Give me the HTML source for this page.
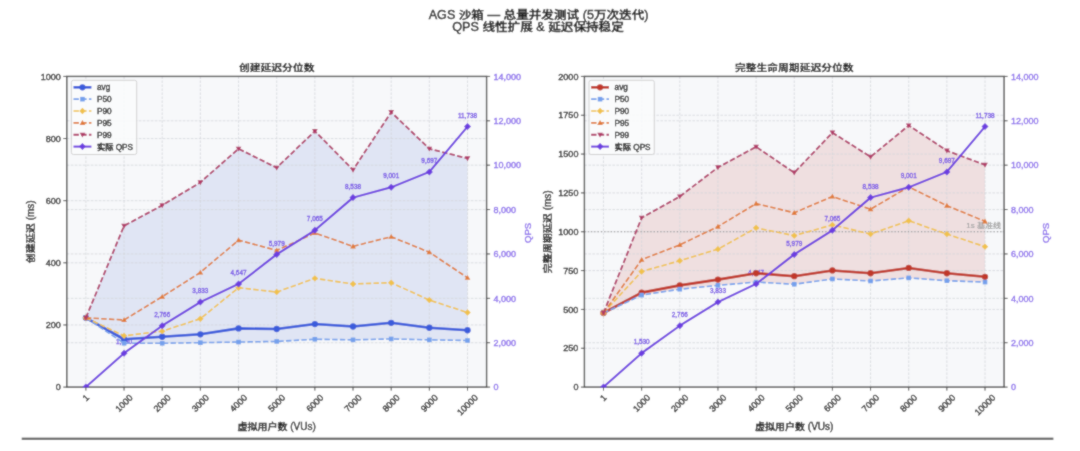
<!DOCTYPE html>
<html><head><meta charset="utf-8"><title>AGS 沙箱 — 总量并发测试</title>
<style>html,body{margin:0;padding:0;background:#fff;width:1080px;height:451px;overflow:hidden}svg{display:block}</style>
</head><body>
<svg width="1080" height="451" viewBox="0 0 1080 451">
<defs><filter id="soft" x="0" y="0" width="1080" height="451" filterUnits="userSpaceOnUse"><feConvolveMatrix order="3" kernelMatrix="1 2 1 2 12 2 1 2 1" divisor="24" edgeMode="duplicate"/></filter></defs>
<g filter="url(#soft)">
<rect x="0" y="0" width="1080" height="451" fill="#ffffff"/>
<text x="428.69" y="18.90" font-family='"Liberation Sans", "Noto Sans CJK SC", sans-serif' font-size="12.6" font-weight="500" fill="#1c1c1c" stroke="#1c1c1c" stroke-width="0.4" xml:space="preserve">AGS </text>
<text x="458.80" y="18.90" font-family='"Liberation Sans", "Noto Sans CJK SC", sans-serif' font-size="12.6" font-weight="500" fill="#1c1c1c" stroke="#1c1c1c" stroke-width="0.4" transform="translate(0 18.90) scale(1 0.87) translate(0 -18.90)">沙箱</text>
<text x="484.00" y="18.90" font-family='"Liberation Sans", "Noto Sans CJK SC", sans-serif' font-size="12.6" font-weight="500" fill="#1c1c1c" stroke="#1c1c1c" stroke-width="0.4" xml:space="preserve"> — </text>
<text x="503.61" y="18.90" font-family='"Liberation Sans", "Noto Sans CJK SC", sans-serif' font-size="12.6" font-weight="500" fill="#1c1c1c" stroke="#1c1c1c" stroke-width="0.4" transform="translate(0 18.90) scale(1 0.87) translate(0 -18.90)">总量并发测试</text>
<text x="579.21" y="18.90" font-family='"Liberation Sans", "Noto Sans CJK SC", sans-serif' font-size="12.6" font-weight="500" fill="#1c1c1c" stroke="#1c1c1c" stroke-width="0.4" xml:space="preserve"> (5</text>
<text x="593.91" y="18.90" font-family='"Liberation Sans", "Noto Sans CJK SC", sans-serif' font-size="12.6" font-weight="500" fill="#1c1c1c" stroke="#1c1c1c" stroke-width="0.4" transform="translate(0 18.90) scale(1 0.87) translate(0 -18.90)">万次迭代</text>
<text x="644.31" y="18.90" font-family='"Liberation Sans", "Noto Sans CJK SC", sans-serif' font-size="12.6" font-weight="500" fill="#1c1c1c" stroke="#1c1c1c" stroke-width="0.4" xml:space="preserve">)</text>
<text x="452.34" y="31.20" font-family='"Liberation Sans", "Noto Sans CJK SC", sans-serif' font-size="12.6" font-weight="500" fill="#1c1c1c" stroke="#1c1c1c" stroke-width="0.4" xml:space="preserve">QPS </text>
<text x="482.45" y="31.20" font-family='"Liberation Sans", "Noto Sans CJK SC", sans-serif' font-size="12.6" font-weight="500" fill="#1c1c1c" stroke="#1c1c1c" stroke-width="0.4" transform="translate(0 31.20) scale(1 0.87) translate(0 -31.20)">线性扩展</text>
<text x="532.85" y="31.20" font-family='"Liberation Sans", "Noto Sans CJK SC", sans-serif' font-size="12.6" font-weight="500" fill="#1c1c1c" stroke="#1c1c1c" stroke-width="0.4" xml:space="preserve"> &amp; </text>
<text x="548.26" y="31.20" font-family='"Liberation Sans", "Noto Sans CJK SC", sans-serif' font-size="12.6" font-weight="500" fill="#1c1c1c" stroke="#1c1c1c" stroke-width="0.4" transform="translate(0 31.20) scale(1 0.87) translate(0 -31.20)">延迟保持稳定</text>
<rect x="66.80" y="76.40" width="419.80" height="310.70" fill="#f7f8fa"/>
<polygon points="85.88,317.81 124.05,225.85 162.21,205.34 200.37,182.35 238.54,148.79 276.70,167.75 314.86,131.08 353.03,169.92 391.19,112.13 429.35,148.79 467.52,158.42 467.52,340.50 429.35,339.87 391.19,338.94 353.03,339.87 314.86,339.25 276.70,341.43 238.54,342.05 200.37,342.67 162.21,343.29 124.05,343.29 85.88,317.81" fill="#e0e5f4"/>
<line x1="85.88" y1="76.40" x2="85.88" y2="387.10" stroke="#d3d5da" stroke-width="0.8" stroke-dasharray="2.6 1.4"/>
<line x1="124.05" y1="76.40" x2="124.05" y2="387.10" stroke="#d3d5da" stroke-width="0.8" stroke-dasharray="2.6 1.4"/>
<line x1="162.21" y1="76.40" x2="162.21" y2="387.10" stroke="#d3d5da" stroke-width="0.8" stroke-dasharray="2.6 1.4"/>
<line x1="200.37" y1="76.40" x2="200.37" y2="387.10" stroke="#d3d5da" stroke-width="0.8" stroke-dasharray="2.6 1.4"/>
<line x1="238.54" y1="76.40" x2="238.54" y2="387.10" stroke="#d3d5da" stroke-width="0.8" stroke-dasharray="2.6 1.4"/>
<line x1="276.70" y1="76.40" x2="276.70" y2="387.10" stroke="#d3d5da" stroke-width="0.8" stroke-dasharray="2.6 1.4"/>
<line x1="314.86" y1="76.40" x2="314.86" y2="387.10" stroke="#d3d5da" stroke-width="0.8" stroke-dasharray="2.6 1.4"/>
<line x1="353.03" y1="76.40" x2="353.03" y2="387.10" stroke="#d3d5da" stroke-width="0.8" stroke-dasharray="2.6 1.4"/>
<line x1="391.19" y1="76.40" x2="391.19" y2="387.10" stroke="#d3d5da" stroke-width="0.8" stroke-dasharray="2.6 1.4"/>
<line x1="429.35" y1="76.40" x2="429.35" y2="387.10" stroke="#d3d5da" stroke-width="0.8" stroke-dasharray="2.6 1.4"/>
<line x1="467.52" y1="76.40" x2="467.52" y2="387.10" stroke="#d3d5da" stroke-width="0.8" stroke-dasharray="2.6 1.4"/>
<line x1="66.80" y1="324.96" x2="486.60" y2="324.96" stroke="#d3d5da" stroke-width="0.8" stroke-dasharray="2.6 1.4"/>
<line x1="66.80" y1="262.82" x2="486.60" y2="262.82" stroke="#d3d5da" stroke-width="0.8" stroke-dasharray="2.6 1.4"/>
<line x1="66.80" y1="200.68" x2="486.60" y2="200.68" stroke="#d3d5da" stroke-width="0.8" stroke-dasharray="2.6 1.4"/>
<line x1="66.80" y1="138.54" x2="486.60" y2="138.54" stroke="#d3d5da" stroke-width="0.8" stroke-dasharray="2.6 1.4"/>
<line x1="66.80" y1="342.71" x2="486.60" y2="342.71" stroke="#d3d5da" stroke-width="0.8" stroke-dasharray="2.6 1.4"/>
<line x1="66.80" y1="298.33" x2="486.60" y2="298.33" stroke="#d3d5da" stroke-width="0.8" stroke-dasharray="2.6 1.4"/>
<line x1="66.80" y1="253.94" x2="486.60" y2="253.94" stroke="#d3d5da" stroke-width="0.8" stroke-dasharray="2.6 1.4"/>
<line x1="66.80" y1="209.56" x2="486.60" y2="209.56" stroke="#d3d5da" stroke-width="0.8" stroke-dasharray="2.6 1.4"/>
<line x1="66.80" y1="165.17" x2="486.60" y2="165.17" stroke="#d3d5da" stroke-width="0.8" stroke-dasharray="2.6 1.4"/>
<line x1="66.80" y1="120.79" x2="486.60" y2="120.79" stroke="#d3d5da" stroke-width="0.8" stroke-dasharray="2.6 1.4"/>
<text x="124.05" y="344.24" font-family='"Liberation Sans", "Noto Sans CJK SC", sans-serif' font-size="6.4" fill="#7b5ae6" stroke="#7b5ae6" stroke-width="0.35" text-anchor="middle">1,530</text>
<text x="162.21" y="316.81" font-family='"Liberation Sans", "Noto Sans CJK SC", sans-serif' font-size="6.4" fill="#7b5ae6" stroke="#7b5ae6" stroke-width="0.35" text-anchor="middle">2,766</text>
<text x="200.37" y="293.13" font-family='"Liberation Sans", "Noto Sans CJK SC", sans-serif' font-size="6.4" fill="#7b5ae6" stroke="#7b5ae6" stroke-width="0.35" text-anchor="middle">3,833</text>
<text x="238.54" y="275.07" font-family='"Liberation Sans", "Noto Sans CJK SC", sans-serif' font-size="6.4" fill="#7b5ae6" stroke="#7b5ae6" stroke-width="0.35" text-anchor="middle">4,647</text>
<text x="276.70" y="245.51" font-family='"Liberation Sans", "Noto Sans CJK SC", sans-serif' font-size="6.4" fill="#7b5ae6" stroke="#7b5ae6" stroke-width="0.35" text-anchor="middle">5,979</text>
<text x="314.86" y="221.41" font-family='"Liberation Sans", "Noto Sans CJK SC", sans-serif' font-size="6.4" fill="#7b5ae6" stroke="#7b5ae6" stroke-width="0.35" text-anchor="middle">7,065</text>
<text x="353.03" y="188.72" font-family='"Liberation Sans", "Noto Sans CJK SC", sans-serif' font-size="6.4" fill="#7b5ae6" stroke="#7b5ae6" stroke-width="0.35" text-anchor="middle">8,538</text>
<text x="391.19" y="178.44" font-family='"Liberation Sans", "Noto Sans CJK SC", sans-serif' font-size="6.4" fill="#7b5ae6" stroke="#7b5ae6" stroke-width="0.35" text-anchor="middle">9,001</text>
<text x="429.35" y="163.00" font-family='"Liberation Sans", "Noto Sans CJK SC", sans-serif' font-size="6.4" fill="#7b5ae6" stroke="#7b5ae6" stroke-width="0.35" text-anchor="middle">9,697</text>
<text x="467.52" y="117.70" font-family='"Liberation Sans", "Noto Sans CJK SC", sans-serif' font-size="6.4" fill="#7b5ae6" stroke="#7b5ae6" stroke-width="0.35" text-anchor="middle">11,738</text>
<polyline points="85.88,317.81 124.05,339.25 162.21,336.77 200.37,334.28 238.54,328.38 276.70,329.00 314.86,324.03 353.03,326.51 391.19,322.79 429.35,327.76 467.52,330.24" fill="none" stroke="#3b5bdb" stroke-width="2.6" stroke-linejoin="round" stroke-linecap="butt"/>
<circle cx="85.88" cy="317.81" r="3.15" fill="#3b5bdb"/>
<circle cx="124.05" cy="339.25" r="3.15" fill="#3b5bdb"/>
<circle cx="162.21" cy="336.77" r="3.15" fill="#3b5bdb"/>
<circle cx="200.37" cy="334.28" r="3.15" fill="#3b5bdb"/>
<circle cx="238.54" cy="328.38" r="3.15" fill="#3b5bdb"/>
<circle cx="276.70" cy="329.00" r="3.15" fill="#3b5bdb"/>
<circle cx="314.86" cy="324.03" r="3.15" fill="#3b5bdb"/>
<circle cx="353.03" cy="326.51" r="3.15" fill="#3b5bdb"/>
<circle cx="391.19" cy="322.79" r="3.15" fill="#3b5bdb"/>
<circle cx="429.35" cy="327.76" r="3.15" fill="#3b5bdb"/>
<circle cx="467.52" cy="330.24" r="3.15" fill="#3b5bdb"/>
<polyline points="85.88,317.81 124.05,343.29 162.21,343.29 200.37,342.67 238.54,342.05 276.70,341.43 314.86,339.25 353.03,339.87 391.19,338.94 429.35,339.87 467.52,340.50" fill="none" stroke="#74a0ec" stroke-width="1.6" stroke-dasharray="5.4 2.3" stroke-linejoin="round" stroke-linecap="butt"/>
<rect x="83.58" y="315.51" width="4.60" height="4.60" fill="#74a0ec"/>
<rect x="121.75" y="340.99" width="4.60" height="4.60" fill="#74a0ec"/>
<rect x="159.91" y="340.99" width="4.60" height="4.60" fill="#74a0ec"/>
<rect x="198.07" y="340.37" width="4.60" height="4.60" fill="#74a0ec"/>
<rect x="236.24" y="339.75" width="4.60" height="4.60" fill="#74a0ec"/>
<rect x="274.40" y="339.13" width="4.60" height="4.60" fill="#74a0ec"/>
<rect x="312.56" y="336.95" width="4.60" height="4.60" fill="#74a0ec"/>
<rect x="350.73" y="337.57" width="4.60" height="4.60" fill="#74a0ec"/>
<rect x="388.89" y="336.64" width="4.60" height="4.60" fill="#74a0ec"/>
<rect x="427.05" y="337.57" width="4.60" height="4.60" fill="#74a0ec"/>
<rect x="465.22" y="338.19" width="4.60" height="4.60" fill="#74a0ec"/>
<polyline points="85.88,317.81 124.05,335.83 162.21,331.17 200.37,318.75 238.54,287.68 276.70,292.03 314.86,278.36 353.03,283.95 391.19,282.70 429.35,300.10 467.52,312.53" fill="none" stroke="#f0c14b" stroke-width="1.6" stroke-dasharray="5.4 2.3" stroke-linejoin="round" stroke-linecap="butt"/>
<polygon points="85.88,314.61 89.08,317.81 85.88,321.01 82.68,317.81" fill="#f0c14b"/>
<polygon points="124.05,332.63 127.25,335.83 124.05,339.03 120.85,335.83" fill="#f0c14b"/>
<polygon points="162.21,327.97 165.41,331.17 162.21,334.37 159.01,331.17" fill="#f0c14b"/>
<polygon points="200.37,315.55 203.57,318.75 200.37,321.95 197.17,318.75" fill="#f0c14b"/>
<polygon points="238.54,284.48 241.74,287.68 238.54,290.88 235.34,287.68" fill="#f0c14b"/>
<polygon points="276.70,288.83 279.90,292.03 276.70,295.23 273.50,292.03" fill="#f0c14b"/>
<polygon points="314.86,275.16 318.06,278.36 314.86,281.56 311.66,278.36" fill="#f0c14b"/>
<polygon points="353.03,280.75 356.23,283.95 353.03,287.15 349.83,283.95" fill="#f0c14b"/>
<polygon points="391.19,279.50 394.39,282.70 391.19,285.90 387.99,282.70" fill="#f0c14b"/>
<polygon points="429.35,296.90 432.55,300.10 429.35,303.30 426.15,300.10" fill="#f0c14b"/>
<polygon points="467.52,309.33 470.72,312.53 467.52,315.73 464.32,312.53" fill="#f0c14b"/>
<polyline points="85.88,317.81 124.05,319.99 162.21,296.69 200.37,272.45 238.54,240.14 276.70,250.39 314.86,232.99 353.03,246.35 391.19,236.72 429.35,252.26 467.52,277.73" fill="none" stroke="#e07b39" stroke-width="1.6" stroke-dasharray="5.4 2.3" stroke-linejoin="round" stroke-linecap="butt"/>
<polygon points="85.88,315.01 88.68,319.91 83.08,319.91" fill="#e07b39"/>
<polygon points="124.05,317.19 126.85,322.09 121.25,322.09" fill="#e07b39"/>
<polygon points="162.21,293.89 165.01,298.79 159.41,298.79" fill="#e07b39"/>
<polygon points="200.37,269.65 203.17,274.55 197.57,274.55" fill="#e07b39"/>
<polygon points="238.54,237.34 241.34,242.24 235.74,242.24" fill="#e07b39"/>
<polygon points="276.70,247.59 279.50,252.49 273.90,252.49" fill="#e07b39"/>
<polygon points="314.86,230.19 317.66,235.09 312.06,235.09" fill="#e07b39"/>
<polygon points="353.03,243.55 355.83,248.45 350.23,248.45" fill="#e07b39"/>
<polygon points="391.19,233.92 393.99,238.82 388.39,238.82" fill="#e07b39"/>
<polygon points="429.35,249.46 432.15,254.36 426.55,254.36" fill="#e07b39"/>
<polygon points="467.52,274.93 470.32,279.83 464.72,279.83" fill="#e07b39"/>
<polyline points="85.88,317.81 124.05,225.85 162.21,205.34 200.37,182.35 238.54,148.79 276.70,167.75 314.86,131.08 353.03,169.92 391.19,112.13 429.35,148.79 467.52,158.42" fill="none" stroke="#b03b67" stroke-width="1.8" stroke-dasharray="5.4 2.3" stroke-linejoin="round" stroke-linecap="butt"/>
<polygon points="85.88,320.61 88.68,315.71 83.08,315.71" fill="#b03b67"/>
<polygon points="124.05,228.65 126.85,223.75 121.25,223.75" fill="#b03b67"/>
<polygon points="162.21,208.14 165.01,203.24 159.41,203.24" fill="#b03b67"/>
<polygon points="200.37,185.15 203.17,180.25 197.57,180.25" fill="#b03b67"/>
<polygon points="238.54,151.59 241.34,146.69 235.74,146.69" fill="#b03b67"/>
<polygon points="276.70,170.55 279.50,165.65 273.90,165.65" fill="#b03b67"/>
<polygon points="314.86,133.88 317.66,128.98 312.06,128.98" fill="#b03b67"/>
<polygon points="353.03,172.72 355.83,167.82 350.23,167.82" fill="#b03b67"/>
<polygon points="391.19,114.93 393.99,110.03 388.39,110.03" fill="#b03b67"/>
<polygon points="429.35,151.59 432.15,146.69 426.55,146.69" fill="#b03b67"/>
<polygon points="467.52,161.22 470.32,156.32 464.72,156.32" fill="#b03b67"/>
<rect x="66.80" y="76.40" width="419.80" height="310.70" fill="none" stroke="#4c4c4c" stroke-width="1.4"/>
<clipPath id="clip0"><rect x="66.10" y="75.70" width="421.20" height="312.10"/></clipPath>
<g clip-path="url(#clip0)">
<polyline points="85.88,387.10 124.05,353.14 162.21,325.71 200.37,302.03 238.54,283.97 276.70,254.41 314.86,230.31 353.03,197.62 391.19,187.34 429.35,171.90 467.52,126.60" fill="none" stroke="#6c3ce0" stroke-width="2.0" stroke-linejoin="round" stroke-linecap="butt"/>
<polygon points="85.88,383.60 89.38,387.10 85.88,390.60 82.38,387.10" fill="#6c3ce0"/>
<polygon points="124.05,349.64 127.55,353.14 124.05,356.64 120.55,353.14" fill="#6c3ce0"/>
<polygon points="162.21,322.21 165.71,325.71 162.21,329.21 158.71,325.71" fill="#6c3ce0"/>
<polygon points="200.37,298.53 203.87,302.03 200.37,305.53 196.87,302.03" fill="#6c3ce0"/>
<polygon points="238.54,280.47 242.04,283.97 238.54,287.47 235.04,283.97" fill="#6c3ce0"/>
<polygon points="276.70,250.91 280.20,254.41 276.70,257.91 273.20,254.41" fill="#6c3ce0"/>
<polygon points="314.86,226.81 318.36,230.31 314.86,233.81 311.36,230.31" fill="#6c3ce0"/>
<polygon points="353.03,194.12 356.53,197.62 353.03,201.12 349.53,197.62" fill="#6c3ce0"/>
<polygon points="391.19,183.84 394.69,187.34 391.19,190.84 387.69,187.34" fill="#6c3ce0"/>
<polygon points="429.35,168.40 432.85,171.90 429.35,175.40 425.85,171.90" fill="#6c3ce0"/>
<polygon points="467.52,123.10 471.02,126.60 467.52,130.10 464.02,126.60" fill="#6c3ce0"/>
</g>
<line x1="63.30" y1="387.10" x2="66.80" y2="387.10" stroke="#444" stroke-width="1"/>
<text x="60.80" y="390.30" font-family='"Liberation Sans", "Noto Sans CJK SC", sans-serif' font-size="9" fill="#202020" stroke="#202020" stroke-width="0.35" text-anchor="end">0</text>
<line x1="63.30" y1="324.96" x2="66.80" y2="324.96" stroke="#444" stroke-width="1"/>
<text x="60.80" y="328.16" font-family='"Liberation Sans", "Noto Sans CJK SC", sans-serif' font-size="9" fill="#202020" stroke="#202020" stroke-width="0.35" text-anchor="end">200</text>
<line x1="63.30" y1="262.82" x2="66.80" y2="262.82" stroke="#444" stroke-width="1"/>
<text x="60.80" y="266.02" font-family='"Liberation Sans", "Noto Sans CJK SC", sans-serif' font-size="9" fill="#202020" stroke="#202020" stroke-width="0.35" text-anchor="end">400</text>
<line x1="63.30" y1="200.68" x2="66.80" y2="200.68" stroke="#444" stroke-width="1"/>
<text x="60.80" y="203.88" font-family='"Liberation Sans", "Noto Sans CJK SC", sans-serif' font-size="9" fill="#202020" stroke="#202020" stroke-width="0.35" text-anchor="end">600</text>
<line x1="63.30" y1="138.54" x2="66.80" y2="138.54" stroke="#444" stroke-width="1"/>
<text x="60.80" y="141.74" font-family='"Liberation Sans", "Noto Sans CJK SC", sans-serif' font-size="9" fill="#202020" stroke="#202020" stroke-width="0.35" text-anchor="end">800</text>
<line x1="63.30" y1="76.40" x2="66.80" y2="76.40" stroke="#444" stroke-width="1"/>
<text x="60.80" y="79.60" font-family='"Liberation Sans", "Noto Sans CJK SC", sans-serif' font-size="9" fill="#202020" stroke="#202020" stroke-width="0.35" text-anchor="end">1000</text>
<line x1="486.60" y1="387.10" x2="490.10" y2="387.10" stroke="#444" stroke-width="1"/>
<text x="493.60" y="390.30" font-family='"Liberation Sans", "Noto Sans CJK SC", sans-serif' font-size="9" fill="#8a6cec" stroke="#8a6cec" stroke-width="0.35">0</text>
<line x1="486.60" y1="342.71" x2="490.10" y2="342.71" stroke="#444" stroke-width="1"/>
<text x="493.60" y="345.91" font-family='"Liberation Sans", "Noto Sans CJK SC", sans-serif' font-size="9" fill="#8a6cec" stroke="#8a6cec" stroke-width="0.35">2,000</text>
<line x1="486.60" y1="298.33" x2="490.10" y2="298.33" stroke="#444" stroke-width="1"/>
<text x="493.60" y="301.53" font-family='"Liberation Sans", "Noto Sans CJK SC", sans-serif' font-size="9" fill="#8a6cec" stroke="#8a6cec" stroke-width="0.35">4,000</text>
<line x1="486.60" y1="253.94" x2="490.10" y2="253.94" stroke="#444" stroke-width="1"/>
<text x="493.60" y="257.14" font-family='"Liberation Sans", "Noto Sans CJK SC", sans-serif' font-size="9" fill="#8a6cec" stroke="#8a6cec" stroke-width="0.35">6,000</text>
<line x1="486.60" y1="209.56" x2="490.10" y2="209.56" stroke="#444" stroke-width="1"/>
<text x="493.60" y="212.76" font-family='"Liberation Sans", "Noto Sans CJK SC", sans-serif' font-size="9" fill="#8a6cec" stroke="#8a6cec" stroke-width="0.35">8,000</text>
<line x1="486.60" y1="165.17" x2="490.10" y2="165.17" stroke="#444" stroke-width="1"/>
<text x="493.60" y="168.37" font-family='"Liberation Sans", "Noto Sans CJK SC", sans-serif' font-size="9" fill="#8a6cec" stroke="#8a6cec" stroke-width="0.35">10,000</text>
<line x1="486.60" y1="120.79" x2="490.10" y2="120.79" stroke="#444" stroke-width="1"/>
<text x="493.60" y="123.99" font-family='"Liberation Sans", "Noto Sans CJK SC", sans-serif' font-size="9" fill="#8a6cec" stroke="#8a6cec" stroke-width="0.35">12,000</text>
<line x1="486.60" y1="76.40" x2="490.10" y2="76.40" stroke="#444" stroke-width="1"/>
<text x="493.60" y="79.60" font-family='"Liberation Sans", "Noto Sans CJK SC", sans-serif' font-size="9" fill="#8a6cec" stroke="#8a6cec" stroke-width="0.35">14,000</text>
<line x1="85.88" y1="387.10" x2="85.88" y2="390.60" stroke="#444" stroke-width="1"/>
<text x="85.88" y="397.96" font-family='"Liberation Sans", "Noto Sans CJK SC", sans-serif' font-size="9.0" fill="#202020" stroke="#202020" stroke-width="0.35" text-anchor="middle" dominant-baseline="central" transform="rotate(-45 85.88 397.96)">1</text>
<line x1="124.05" y1="387.10" x2="124.05" y2="390.60" stroke="#444" stroke-width="1"/>
<text x="124.05" y="403.27" font-family='"Liberation Sans", "Noto Sans CJK SC", sans-serif' font-size="9.0" fill="#202020" stroke="#202020" stroke-width="0.35" text-anchor="middle" dominant-baseline="central" transform="rotate(-45 124.05 403.27)">1000</text>
<line x1="162.21" y1="387.10" x2="162.21" y2="390.60" stroke="#444" stroke-width="1"/>
<text x="162.21" y="403.27" font-family='"Liberation Sans", "Noto Sans CJK SC", sans-serif' font-size="9.0" fill="#202020" stroke="#202020" stroke-width="0.35" text-anchor="middle" dominant-baseline="central" transform="rotate(-45 162.21 403.27)">2000</text>
<line x1="200.37" y1="387.10" x2="200.37" y2="390.60" stroke="#444" stroke-width="1"/>
<text x="200.37" y="403.27" font-family='"Liberation Sans", "Noto Sans CJK SC", sans-serif' font-size="9.0" fill="#202020" stroke="#202020" stroke-width="0.35" text-anchor="middle" dominant-baseline="central" transform="rotate(-45 200.37 403.27)">3000</text>
<line x1="238.54" y1="387.10" x2="238.54" y2="390.60" stroke="#444" stroke-width="1"/>
<text x="238.54" y="403.27" font-family='"Liberation Sans", "Noto Sans CJK SC", sans-serif' font-size="9.0" fill="#202020" stroke="#202020" stroke-width="0.35" text-anchor="middle" dominant-baseline="central" transform="rotate(-45 238.54 403.27)">4000</text>
<line x1="276.70" y1="387.10" x2="276.70" y2="390.60" stroke="#444" stroke-width="1"/>
<text x="276.70" y="403.27" font-family='"Liberation Sans", "Noto Sans CJK SC", sans-serif' font-size="9.0" fill="#202020" stroke="#202020" stroke-width="0.35" text-anchor="middle" dominant-baseline="central" transform="rotate(-45 276.70 403.27)">5000</text>
<line x1="314.86" y1="387.10" x2="314.86" y2="390.60" stroke="#444" stroke-width="1"/>
<text x="314.86" y="403.27" font-family='"Liberation Sans", "Noto Sans CJK SC", sans-serif' font-size="9.0" fill="#202020" stroke="#202020" stroke-width="0.35" text-anchor="middle" dominant-baseline="central" transform="rotate(-45 314.86 403.27)">6000</text>
<line x1="353.03" y1="387.10" x2="353.03" y2="390.60" stroke="#444" stroke-width="1"/>
<text x="353.03" y="403.27" font-family='"Liberation Sans", "Noto Sans CJK SC", sans-serif' font-size="9.0" fill="#202020" stroke="#202020" stroke-width="0.35" text-anchor="middle" dominant-baseline="central" transform="rotate(-45 353.03 403.27)">7000</text>
<line x1="391.19" y1="387.10" x2="391.19" y2="390.60" stroke="#444" stroke-width="1"/>
<text x="391.19" y="403.27" font-family='"Liberation Sans", "Noto Sans CJK SC", sans-serif' font-size="9.0" fill="#202020" stroke="#202020" stroke-width="0.35" text-anchor="middle" dominant-baseline="central" transform="rotate(-45 391.19 403.27)">8000</text>
<line x1="429.35" y1="387.10" x2="429.35" y2="390.60" stroke="#444" stroke-width="1"/>
<text x="429.35" y="403.27" font-family='"Liberation Sans", "Noto Sans CJK SC", sans-serif' font-size="9.0" fill="#202020" stroke="#202020" stroke-width="0.35" text-anchor="middle" dominant-baseline="central" transform="rotate(-45 429.35 403.27)">9000</text>
<line x1="467.52" y1="387.10" x2="467.52" y2="390.60" stroke="#444" stroke-width="1"/>
<text x="467.52" y="405.04" font-family='"Liberation Sans", "Noto Sans CJK SC", sans-serif' font-size="9.0" fill="#202020" stroke="#202020" stroke-width="0.35" text-anchor="middle" dominant-baseline="central" transform="rotate(-45 467.52 405.04)">10000</text>
<text x="276.70" y="70.9" font-family='"Liberation Sans", "Noto Sans CJK SC", sans-serif' font-size="10.8" font-weight="700" fill="#1c1c1c" stroke="#1c1c1c" stroke-width="0.15" text-anchor="middle" transform="translate(0 70.9) scale(1 0.88) translate(0 -70.9)">创建延迟分位数</text>
<text x="237.53" y="430.20" font-family='"Liberation Sans", "Noto Sans CJK SC", sans-serif' font-size="10" font-weight="500" fill="#202020" stroke="#202020" stroke-width="0.35" transform="translate(0 430.20) scale(1 0.92) translate(0 -430.20)">虚拟用户数</text>
<text x="287.53" y="430.20" font-family='"Liberation Sans", "Noto Sans CJK SC", sans-serif' font-size="10" font-weight="500" fill="#202020" stroke="#202020" stroke-width="0.35" xml:space="preserve"> (VUs)</text>
<g transform="rotate(-90 33.80 231.75)"><text x="2.42" y="231.75" font-family='"Liberation Sans", "Noto Sans CJK SC", sans-serif' font-size="10" font-weight="500" fill="#202020" stroke="#202020" stroke-width="0.35" transform="translate(0 231.75) scale(1 0.92) translate(0 -231.75)">创建延迟</text>
<text x="42.42" y="231.75" font-family='"Liberation Sans", "Noto Sans CJK SC", sans-serif' font-size="10" font-weight="500" fill="#202020" stroke="#202020" stroke-width="0.35" xml:space="preserve"> (ms)</text></g>
<text x="531.20" y="232.9" font-family='"Liberation Sans", "Noto Sans CJK SC", sans-serif' font-size="9.6" fill="#8a6cec" stroke="#8a6cec" stroke-width="0.35" text-anchor="middle" transform="rotate(-90 531.20 232.9)">QPS</text>
<rect x="71.40" y="80.30" width="65.30" height="74.20" rx="2" fill="#fafbfc" fill-opacity="0.9" stroke="#cdcdcd" stroke-width="0.9"/>
<line x1="73.50" y1="87.30" x2="91.40" y2="87.30" stroke="#3b5bdb" stroke-width="2.6"/>
<circle cx="82.45" cy="87.30" r="3.15" fill="#3b5bdb"/>
<text x="97.00" y="90.30" font-family='"Liberation Sans", "Noto Sans CJK SC", sans-serif' font-size="8.2" font-weight="500" fill="#202020" stroke="#202020" stroke-width="0.35" xml:space="preserve">avg</text>
<line x1="73.50" y1="99.16" x2="91.40" y2="99.16" stroke="#74a0ec" stroke-width="1.6" stroke-dasharray="5.4 2.3"/>
<rect x="80.15" y="96.86" width="4.60" height="4.60" fill="#74a0ec"/>
<text x="97.00" y="102.16" font-family='"Liberation Sans", "Noto Sans CJK SC", sans-serif' font-size="8.2" font-weight="500" fill="#202020" stroke="#202020" stroke-width="0.35" xml:space="preserve">P50</text>
<line x1="73.50" y1="111.02" x2="91.40" y2="111.02" stroke="#f0c14b" stroke-width="1.6" stroke-dasharray="5.4 2.3"/>
<polygon points="82.45,107.82 85.65,111.02 82.45,114.22 79.25,111.02" fill="#f0c14b"/>
<text x="97.00" y="114.02" font-family='"Liberation Sans", "Noto Sans CJK SC", sans-serif' font-size="8.2" font-weight="500" fill="#202020" stroke="#202020" stroke-width="0.35" xml:space="preserve">P90</text>
<line x1="73.50" y1="122.88" x2="91.40" y2="122.88" stroke="#e07b39" stroke-width="1.6" stroke-dasharray="5.4 2.3"/>
<polygon points="82.45,120.08 85.25,124.98 79.65,124.98" fill="#e07b39"/>
<text x="97.00" y="125.88" font-family='"Liberation Sans", "Noto Sans CJK SC", sans-serif' font-size="8.2" font-weight="500" fill="#202020" stroke="#202020" stroke-width="0.35" xml:space="preserve">P95</text>
<line x1="73.50" y1="134.74" x2="91.40" y2="134.74" stroke="#b03b67" stroke-width="1.8" stroke-dasharray="5.4 2.3"/>
<polygon points="82.45,137.54 85.25,132.64 79.65,132.64" fill="#b03b67"/>
<text x="97.00" y="137.74" font-family='"Liberation Sans", "Noto Sans CJK SC", sans-serif' font-size="8.2" font-weight="500" fill="#202020" stroke="#202020" stroke-width="0.35" xml:space="preserve">P99</text>
<line x1="73.50" y1="146.60" x2="91.40" y2="146.60" stroke="#6c3ce0" stroke-width="2.0"/>
<polygon points="82.45,143.10 85.95,146.60 82.45,150.10 78.95,146.60" fill="#6c3ce0"/>
<text x="97.00" y="149.60" font-family='"Liberation Sans", "Noto Sans CJK SC", sans-serif' font-size="8.2" font-weight="500" fill="#202020" stroke="#202020" stroke-width="0.35" transform="translate(0 149.60) scale(1 0.92) translate(0 -149.60)">实际</text>
<text x="113.40" y="149.60" font-family='"Liberation Sans", "Noto Sans CJK SC", sans-serif' font-size="8.2" font-weight="500" fill="#202020" stroke="#202020" stroke-width="0.35" xml:space="preserve"> QPS</text>
<rect x="584.40" y="76.40" width="419.70" height="310.70" fill="#f7f8fa"/>
<polygon points="603.48,313.00 641.63,217.77 679.79,196.49 717.94,167.44 756.10,146.77 794.25,172.72 832.40,132.64 870.56,156.87 908.71,125.49 946.87,150.66 985.02,164.95 985.02,282.08 946.87,280.69 908.71,277.89 870.56,281.00 832.40,278.98 794.25,284.26 756.10,282.08 717.94,285.35 679.79,289.23 641.63,295.13 603.48,313.00" fill="#efdfe0"/>
<line x1="603.48" y1="76.40" x2="603.48" y2="387.10" stroke="#d3d5da" stroke-width="0.8" stroke-dasharray="2.6 1.4"/>
<line x1="641.63" y1="76.40" x2="641.63" y2="387.10" stroke="#d3d5da" stroke-width="0.8" stroke-dasharray="2.6 1.4"/>
<line x1="679.79" y1="76.40" x2="679.79" y2="387.10" stroke="#d3d5da" stroke-width="0.8" stroke-dasharray="2.6 1.4"/>
<line x1="717.94" y1="76.40" x2="717.94" y2="387.10" stroke="#d3d5da" stroke-width="0.8" stroke-dasharray="2.6 1.4"/>
<line x1="756.10" y1="76.40" x2="756.10" y2="387.10" stroke="#d3d5da" stroke-width="0.8" stroke-dasharray="2.6 1.4"/>
<line x1="794.25" y1="76.40" x2="794.25" y2="387.10" stroke="#d3d5da" stroke-width="0.8" stroke-dasharray="2.6 1.4"/>
<line x1="832.40" y1="76.40" x2="832.40" y2="387.10" stroke="#d3d5da" stroke-width="0.8" stroke-dasharray="2.6 1.4"/>
<line x1="870.56" y1="76.40" x2="870.56" y2="387.10" stroke="#d3d5da" stroke-width="0.8" stroke-dasharray="2.6 1.4"/>
<line x1="908.71" y1="76.40" x2="908.71" y2="387.10" stroke="#d3d5da" stroke-width="0.8" stroke-dasharray="2.6 1.4"/>
<line x1="946.87" y1="76.40" x2="946.87" y2="387.10" stroke="#d3d5da" stroke-width="0.8" stroke-dasharray="2.6 1.4"/>
<line x1="985.02" y1="76.40" x2="985.02" y2="387.10" stroke="#d3d5da" stroke-width="0.8" stroke-dasharray="2.6 1.4"/>
<line x1="584.40" y1="348.26" x2="1004.10" y2="348.26" stroke="#d3d5da" stroke-width="0.8" stroke-dasharray="2.6 1.4"/>
<line x1="584.40" y1="309.43" x2="1004.10" y2="309.43" stroke="#d3d5da" stroke-width="0.8" stroke-dasharray="2.6 1.4"/>
<line x1="584.40" y1="270.59" x2="1004.10" y2="270.59" stroke="#d3d5da" stroke-width="0.8" stroke-dasharray="2.6 1.4"/>
<line x1="584.40" y1="231.75" x2="1004.10" y2="231.75" stroke="#d3d5da" stroke-width="0.8" stroke-dasharray="2.6 1.4"/>
<line x1="584.40" y1="192.91" x2="1004.10" y2="192.91" stroke="#d3d5da" stroke-width="0.8" stroke-dasharray="2.6 1.4"/>
<line x1="584.40" y1="154.07" x2="1004.10" y2="154.07" stroke="#d3d5da" stroke-width="0.8" stroke-dasharray="2.6 1.4"/>
<line x1="584.40" y1="115.24" x2="1004.10" y2="115.24" stroke="#d3d5da" stroke-width="0.8" stroke-dasharray="2.6 1.4"/>
<line x1="584.40" y1="342.71" x2="1004.10" y2="342.71" stroke="#d3d5da" stroke-width="0.8" stroke-dasharray="2.6 1.4"/>
<line x1="584.40" y1="298.33" x2="1004.10" y2="298.33" stroke="#d3d5da" stroke-width="0.8" stroke-dasharray="2.6 1.4"/>
<line x1="584.40" y1="253.94" x2="1004.10" y2="253.94" stroke="#d3d5da" stroke-width="0.8" stroke-dasharray="2.6 1.4"/>
<line x1="584.40" y1="209.56" x2="1004.10" y2="209.56" stroke="#d3d5da" stroke-width="0.8" stroke-dasharray="2.6 1.4"/>
<line x1="584.40" y1="165.17" x2="1004.10" y2="165.17" stroke="#d3d5da" stroke-width="0.8" stroke-dasharray="2.6 1.4"/>
<line x1="584.40" y1="120.79" x2="1004.10" y2="120.79" stroke="#d3d5da" stroke-width="0.8" stroke-dasharray="2.6 1.4"/>
<line x1="584.40" y1="231.75" x2="1004.10" y2="231.75" stroke="#8a8a8a" stroke-width="1.1" stroke-dasharray="1.2 2.1"/>
<text x="966.33" y="228.30" font-family='"Liberation Sans", "Noto Sans CJK SC", sans-serif' font-size="8" font-weight="500" fill="#a2a2a2" stroke="#a2a2a2" stroke-width="0.15" xml:space="preserve">1s </text>
<text x="977.00" y="228.30" font-family='"Liberation Sans", "Noto Sans CJK SC", sans-serif' font-size="8" font-weight="500" fill="#a2a2a2" stroke="#a2a2a2" stroke-width="0.15" transform="translate(0 228.30) scale(1 0.9) translate(0 -228.30)">基准线</text>
<text x="641.63" y="344.24" font-family='"Liberation Sans", "Noto Sans CJK SC", sans-serif' font-size="6.4" fill="#7b5ae6" stroke="#7b5ae6" stroke-width="0.35" text-anchor="middle">1,530</text>
<text x="679.79" y="316.81" font-family='"Liberation Sans", "Noto Sans CJK SC", sans-serif' font-size="6.4" fill="#7b5ae6" stroke="#7b5ae6" stroke-width="0.35" text-anchor="middle">2,766</text>
<text x="717.94" y="293.13" font-family='"Liberation Sans", "Noto Sans CJK SC", sans-serif' font-size="6.4" fill="#7b5ae6" stroke="#7b5ae6" stroke-width="0.35" text-anchor="middle">3,833</text>
<text x="756.10" y="275.07" font-family='"Liberation Sans", "Noto Sans CJK SC", sans-serif' font-size="6.4" fill="#7b5ae6" stroke="#7b5ae6" stroke-width="0.35" text-anchor="middle">4,647</text>
<text x="794.25" y="245.51" font-family='"Liberation Sans", "Noto Sans CJK SC", sans-serif' font-size="6.4" fill="#7b5ae6" stroke="#7b5ae6" stroke-width="0.35" text-anchor="middle">5,979</text>
<text x="832.40" y="221.41" font-family='"Liberation Sans", "Noto Sans CJK SC", sans-serif' font-size="6.4" fill="#7b5ae6" stroke="#7b5ae6" stroke-width="0.35" text-anchor="middle">7,065</text>
<text x="870.56" y="188.72" font-family='"Liberation Sans", "Noto Sans CJK SC", sans-serif' font-size="6.4" fill="#7b5ae6" stroke="#7b5ae6" stroke-width="0.35" text-anchor="middle">8,538</text>
<text x="908.71" y="178.44" font-family='"Liberation Sans", "Noto Sans CJK SC", sans-serif' font-size="6.4" fill="#7b5ae6" stroke="#7b5ae6" stroke-width="0.35" text-anchor="middle">9,001</text>
<text x="946.87" y="163.00" font-family='"Liberation Sans", "Noto Sans CJK SC", sans-serif' font-size="6.4" fill="#7b5ae6" stroke="#7b5ae6" stroke-width="0.35" text-anchor="middle">9,697</text>
<text x="985.02" y="117.70" font-family='"Liberation Sans", "Noto Sans CJK SC", sans-serif' font-size="6.4" fill="#7b5ae6" stroke="#7b5ae6" stroke-width="0.35" text-anchor="middle">11,738</text>
<polyline points="603.48,313.00 641.63,292.65 679.79,285.35 717.94,279.60 756.10,273.23 794.25,276.18 832.40,270.43 870.56,273.23 908.71,267.95 946.87,273.23 985.02,276.80" fill="none" stroke="#c0392b" stroke-width="2.6" stroke-linejoin="round" stroke-linecap="butt"/>
<circle cx="603.48" cy="313.00" r="3.15" fill="#c0392b"/>
<circle cx="641.63" cy="292.65" r="3.15" fill="#c0392b"/>
<circle cx="679.79" cy="285.35" r="3.15" fill="#c0392b"/>
<circle cx="717.94" cy="279.60" r="3.15" fill="#c0392b"/>
<circle cx="756.10" cy="273.23" r="3.15" fill="#c0392b"/>
<circle cx="794.25" cy="276.18" r="3.15" fill="#c0392b"/>
<circle cx="832.40" cy="270.43" r="3.15" fill="#c0392b"/>
<circle cx="870.56" cy="273.23" r="3.15" fill="#c0392b"/>
<circle cx="908.71" cy="267.95" r="3.15" fill="#c0392b"/>
<circle cx="946.87" cy="273.23" r="3.15" fill="#c0392b"/>
<circle cx="985.02" cy="276.80" r="3.15" fill="#c0392b"/>
<polyline points="603.48,313.00 641.63,295.13 679.79,289.23 717.94,285.35 756.10,282.08 794.25,284.26 832.40,278.98 870.56,281.00 908.71,277.89 946.87,280.69 985.02,282.08" fill="none" stroke="#74a0ec" stroke-width="1.6" stroke-dasharray="5.4 2.3" stroke-linejoin="round" stroke-linecap="butt"/>
<rect x="601.18" y="310.70" width="4.60" height="4.60" fill="#74a0ec"/>
<rect x="639.33" y="292.83" width="4.60" height="4.60" fill="#74a0ec"/>
<rect x="677.49" y="286.93" width="4.60" height="4.60" fill="#74a0ec"/>
<rect x="715.64" y="283.05" width="4.60" height="4.60" fill="#74a0ec"/>
<rect x="753.80" y="279.78" width="4.60" height="4.60" fill="#74a0ec"/>
<rect x="791.95" y="281.96" width="4.60" height="4.60" fill="#74a0ec"/>
<rect x="830.10" y="276.68" width="4.60" height="4.60" fill="#74a0ec"/>
<rect x="868.26" y="278.70" width="4.60" height="4.60" fill="#74a0ec"/>
<rect x="906.41" y="275.59" width="4.60" height="4.60" fill="#74a0ec"/>
<rect x="944.57" y="278.39" width="4.60" height="4.60" fill="#74a0ec"/>
<rect x="982.72" y="279.78" width="4.60" height="4.60" fill="#74a0ec"/>
<polyline points="603.48,313.00 641.63,271.52 679.79,260.80 717.94,249.15 756.10,227.87 794.25,235.63 832.40,224.91 870.56,234.08 908.71,220.72 946.87,234.08 985.02,246.66" fill="none" stroke="#f0c14b" stroke-width="1.6" stroke-dasharray="5.4 2.3" stroke-linejoin="round" stroke-linecap="butt"/>
<polygon points="603.48,309.80 606.68,313.00 603.48,316.20 600.28,313.00" fill="#f0c14b"/>
<polygon points="641.63,268.32 644.83,271.52 641.63,274.72 638.43,271.52" fill="#f0c14b"/>
<polygon points="679.79,257.60 682.99,260.80 679.79,264.00 676.59,260.80" fill="#f0c14b"/>
<polygon points="717.94,245.95 721.14,249.15 717.94,252.35 714.74,249.15" fill="#f0c14b"/>
<polygon points="756.10,224.67 759.30,227.87 756.10,231.07 752.90,227.87" fill="#f0c14b"/>
<polygon points="794.25,232.43 797.45,235.63 794.25,238.83 791.05,235.63" fill="#f0c14b"/>
<polygon points="832.40,221.71 835.60,224.91 832.40,228.11 829.20,224.91" fill="#f0c14b"/>
<polygon points="870.56,230.88 873.76,234.08 870.56,237.28 867.36,234.08" fill="#f0c14b"/>
<polygon points="908.71,217.52 911.91,220.72 908.71,223.92 905.51,220.72" fill="#f0c14b"/>
<polygon points="946.87,230.88 950.07,234.08 946.87,237.28 943.67,234.08" fill="#f0c14b"/>
<polygon points="985.02,243.46 988.22,246.66 985.02,249.86 981.82,246.66" fill="#f0c14b"/>
<polyline points="603.48,313.00 641.63,259.71 679.79,244.80 717.94,226.62 756.10,203.63 794.25,212.80 832.40,196.49 870.56,209.22 908.71,186.85 946.87,205.65 985.02,221.34" fill="none" stroke="#e07b39" stroke-width="1.6" stroke-dasharray="5.4 2.3" stroke-linejoin="round" stroke-linecap="butt"/>
<polygon points="603.48,310.20 606.28,315.10 600.68,315.10" fill="#e07b39"/>
<polygon points="641.63,256.91 644.43,261.81 638.83,261.81" fill="#e07b39"/>
<polygon points="679.79,242.00 682.59,246.90 676.99,246.90" fill="#e07b39"/>
<polygon points="717.94,223.82 720.74,228.72 715.14,228.72" fill="#e07b39"/>
<polygon points="756.10,200.83 758.90,205.73 753.30,205.73" fill="#e07b39"/>
<polygon points="794.25,210.00 797.05,214.90 791.45,214.90" fill="#e07b39"/>
<polygon points="832.40,193.69 835.20,198.59 829.60,198.59" fill="#e07b39"/>
<polygon points="870.56,206.42 873.36,211.32 867.76,211.32" fill="#e07b39"/>
<polygon points="908.71,184.05 911.51,188.95 905.91,188.95" fill="#e07b39"/>
<polygon points="946.87,202.85 949.67,207.75 944.07,207.75" fill="#e07b39"/>
<polygon points="985.02,218.54 987.82,223.44 982.22,223.44" fill="#e07b39"/>
<polyline points="603.48,313.00 641.63,217.77 679.79,196.49 717.94,167.44 756.10,146.77 794.25,172.72 832.40,132.64 870.56,156.87 908.71,125.49 946.87,150.66 985.02,164.95" fill="none" stroke="#b03b67" stroke-width="1.8" stroke-dasharray="5.4 2.3" stroke-linejoin="round" stroke-linecap="butt"/>
<polygon points="603.48,315.80 606.28,310.90 600.68,310.90" fill="#b03b67"/>
<polygon points="641.63,220.57 644.43,215.67 638.83,215.67" fill="#b03b67"/>
<polygon points="679.79,199.29 682.59,194.39 676.99,194.39" fill="#b03b67"/>
<polygon points="717.94,170.24 720.74,165.34 715.14,165.34" fill="#b03b67"/>
<polygon points="756.10,149.57 758.90,144.67 753.30,144.67" fill="#b03b67"/>
<polygon points="794.25,175.52 797.05,170.62 791.45,170.62" fill="#b03b67"/>
<polygon points="832.40,135.44 835.20,130.54 829.60,130.54" fill="#b03b67"/>
<polygon points="870.56,159.67 873.36,154.77 867.76,154.77" fill="#b03b67"/>
<polygon points="908.71,128.29 911.51,123.39 905.91,123.39" fill="#b03b67"/>
<polygon points="946.87,153.46 949.67,148.56 944.07,148.56" fill="#b03b67"/>
<polygon points="985.02,167.75 987.82,162.85 982.22,162.85" fill="#b03b67"/>
<rect x="584.40" y="76.40" width="419.70" height="310.70" fill="none" stroke="#4c4c4c" stroke-width="1.4"/>
<clipPath id="clip1"><rect x="583.70" y="75.70" width="421.10" height="312.10"/></clipPath>
<g clip-path="url(#clip1)">
<polyline points="603.48,387.10 641.63,353.14 679.79,325.71 717.94,302.03 756.10,283.97 794.25,254.41 832.40,230.31 870.56,197.62 908.71,187.34 946.87,171.90 985.02,126.60" fill="none" stroke="#6c3ce0" stroke-width="2.0" stroke-linejoin="round" stroke-linecap="butt"/>
<polygon points="603.48,383.60 606.98,387.10 603.48,390.60 599.98,387.10" fill="#6c3ce0"/>
<polygon points="641.63,349.64 645.13,353.14 641.63,356.64 638.13,353.14" fill="#6c3ce0"/>
<polygon points="679.79,322.21 683.29,325.71 679.79,329.21 676.29,325.71" fill="#6c3ce0"/>
<polygon points="717.94,298.53 721.44,302.03 717.94,305.53 714.44,302.03" fill="#6c3ce0"/>
<polygon points="756.10,280.47 759.60,283.97 756.10,287.47 752.60,283.97" fill="#6c3ce0"/>
<polygon points="794.25,250.91 797.75,254.41 794.25,257.91 790.75,254.41" fill="#6c3ce0"/>
<polygon points="832.40,226.81 835.90,230.31 832.40,233.81 828.90,230.31" fill="#6c3ce0"/>
<polygon points="870.56,194.12 874.06,197.62 870.56,201.12 867.06,197.62" fill="#6c3ce0"/>
<polygon points="908.71,183.84 912.21,187.34 908.71,190.84 905.21,187.34" fill="#6c3ce0"/>
<polygon points="946.87,168.40 950.37,171.90 946.87,175.40 943.37,171.90" fill="#6c3ce0"/>
<polygon points="985.02,123.10 988.52,126.60 985.02,130.10 981.52,126.60" fill="#6c3ce0"/>
</g>
<line x1="580.90" y1="387.10" x2="584.40" y2="387.10" stroke="#444" stroke-width="1"/>
<text x="578.40" y="390.30" font-family='"Liberation Sans", "Noto Sans CJK SC", sans-serif' font-size="9" fill="#202020" stroke="#202020" stroke-width="0.35" text-anchor="end">0</text>
<line x1="580.90" y1="348.26" x2="584.40" y2="348.26" stroke="#444" stroke-width="1"/>
<text x="578.40" y="351.46" font-family='"Liberation Sans", "Noto Sans CJK SC", sans-serif' font-size="9" fill="#202020" stroke="#202020" stroke-width="0.35" text-anchor="end">250</text>
<line x1="580.90" y1="309.43" x2="584.40" y2="309.43" stroke="#444" stroke-width="1"/>
<text x="578.40" y="312.62" font-family='"Liberation Sans", "Noto Sans CJK SC", sans-serif' font-size="9" fill="#202020" stroke="#202020" stroke-width="0.35" text-anchor="end">500</text>
<line x1="580.90" y1="270.59" x2="584.40" y2="270.59" stroke="#444" stroke-width="1"/>
<text x="578.40" y="273.79" font-family='"Liberation Sans", "Noto Sans CJK SC", sans-serif' font-size="9" fill="#202020" stroke="#202020" stroke-width="0.35" text-anchor="end">750</text>
<line x1="580.90" y1="231.75" x2="584.40" y2="231.75" stroke="#444" stroke-width="1"/>
<text x="578.40" y="234.95" font-family='"Liberation Sans", "Noto Sans CJK SC", sans-serif' font-size="9" fill="#202020" stroke="#202020" stroke-width="0.35" text-anchor="end">1000</text>
<line x1="580.90" y1="192.91" x2="584.40" y2="192.91" stroke="#444" stroke-width="1"/>
<text x="578.40" y="196.11" font-family='"Liberation Sans", "Noto Sans CJK SC", sans-serif' font-size="9" fill="#202020" stroke="#202020" stroke-width="0.35" text-anchor="end">1250</text>
<line x1="580.90" y1="154.07" x2="584.40" y2="154.07" stroke="#444" stroke-width="1"/>
<text x="578.40" y="157.27" font-family='"Liberation Sans", "Noto Sans CJK SC", sans-serif' font-size="9" fill="#202020" stroke="#202020" stroke-width="0.35" text-anchor="end">1500</text>
<line x1="580.90" y1="115.24" x2="584.40" y2="115.24" stroke="#444" stroke-width="1"/>
<text x="578.40" y="118.44" font-family='"Liberation Sans", "Noto Sans CJK SC", sans-serif' font-size="9" fill="#202020" stroke="#202020" stroke-width="0.35" text-anchor="end">1750</text>
<line x1="580.90" y1="76.40" x2="584.40" y2="76.40" stroke="#444" stroke-width="1"/>
<text x="578.40" y="79.60" font-family='"Liberation Sans", "Noto Sans CJK SC", sans-serif' font-size="9" fill="#202020" stroke="#202020" stroke-width="0.35" text-anchor="end">2000</text>
<line x1="1004.10" y1="387.10" x2="1007.60" y2="387.10" stroke="#444" stroke-width="1"/>
<text x="1011.10" y="390.30" font-family='"Liberation Sans", "Noto Sans CJK SC", sans-serif' font-size="9" fill="#8a6cec" stroke="#8a6cec" stroke-width="0.35">0</text>
<line x1="1004.10" y1="342.71" x2="1007.60" y2="342.71" stroke="#444" stroke-width="1"/>
<text x="1011.10" y="345.91" font-family='"Liberation Sans", "Noto Sans CJK SC", sans-serif' font-size="9" fill="#8a6cec" stroke="#8a6cec" stroke-width="0.35">2,000</text>
<line x1="1004.10" y1="298.33" x2="1007.60" y2="298.33" stroke="#444" stroke-width="1"/>
<text x="1011.10" y="301.53" font-family='"Liberation Sans", "Noto Sans CJK SC", sans-serif' font-size="9" fill="#8a6cec" stroke="#8a6cec" stroke-width="0.35">4,000</text>
<line x1="1004.10" y1="253.94" x2="1007.60" y2="253.94" stroke="#444" stroke-width="1"/>
<text x="1011.10" y="257.14" font-family='"Liberation Sans", "Noto Sans CJK SC", sans-serif' font-size="9" fill="#8a6cec" stroke="#8a6cec" stroke-width="0.35">6,000</text>
<line x1="1004.10" y1="209.56" x2="1007.60" y2="209.56" stroke="#444" stroke-width="1"/>
<text x="1011.10" y="212.76" font-family='"Liberation Sans", "Noto Sans CJK SC", sans-serif' font-size="9" fill="#8a6cec" stroke="#8a6cec" stroke-width="0.35">8,000</text>
<line x1="1004.10" y1="165.17" x2="1007.60" y2="165.17" stroke="#444" stroke-width="1"/>
<text x="1011.10" y="168.37" font-family='"Liberation Sans", "Noto Sans CJK SC", sans-serif' font-size="9" fill="#8a6cec" stroke="#8a6cec" stroke-width="0.35">10,000</text>
<line x1="1004.10" y1="120.79" x2="1007.60" y2="120.79" stroke="#444" stroke-width="1"/>
<text x="1011.10" y="123.99" font-family='"Liberation Sans", "Noto Sans CJK SC", sans-serif' font-size="9" fill="#8a6cec" stroke="#8a6cec" stroke-width="0.35">12,000</text>
<line x1="1004.10" y1="76.40" x2="1007.60" y2="76.40" stroke="#444" stroke-width="1"/>
<text x="1011.10" y="79.60" font-family='"Liberation Sans", "Noto Sans CJK SC", sans-serif' font-size="9" fill="#8a6cec" stroke="#8a6cec" stroke-width="0.35">14,000</text>
<line x1="603.48" y1="387.10" x2="603.48" y2="390.60" stroke="#444" stroke-width="1"/>
<text x="603.48" y="397.96" font-family='"Liberation Sans", "Noto Sans CJK SC", sans-serif' font-size="9.0" fill="#202020" stroke="#202020" stroke-width="0.35" text-anchor="middle" dominant-baseline="central" transform="rotate(-45 603.48 397.96)">1</text>
<line x1="641.63" y1="387.10" x2="641.63" y2="390.60" stroke="#444" stroke-width="1"/>
<text x="641.63" y="403.27" font-family='"Liberation Sans", "Noto Sans CJK SC", sans-serif' font-size="9.0" fill="#202020" stroke="#202020" stroke-width="0.35" text-anchor="middle" dominant-baseline="central" transform="rotate(-45 641.63 403.27)">1000</text>
<line x1="679.79" y1="387.10" x2="679.79" y2="390.60" stroke="#444" stroke-width="1"/>
<text x="679.79" y="403.27" font-family='"Liberation Sans", "Noto Sans CJK SC", sans-serif' font-size="9.0" fill="#202020" stroke="#202020" stroke-width="0.35" text-anchor="middle" dominant-baseline="central" transform="rotate(-45 679.79 403.27)">2000</text>
<line x1="717.94" y1="387.10" x2="717.94" y2="390.60" stroke="#444" stroke-width="1"/>
<text x="717.94" y="403.27" font-family='"Liberation Sans", "Noto Sans CJK SC", sans-serif' font-size="9.0" fill="#202020" stroke="#202020" stroke-width="0.35" text-anchor="middle" dominant-baseline="central" transform="rotate(-45 717.94 403.27)">3000</text>
<line x1="756.10" y1="387.10" x2="756.10" y2="390.60" stroke="#444" stroke-width="1"/>
<text x="756.10" y="403.27" font-family='"Liberation Sans", "Noto Sans CJK SC", sans-serif' font-size="9.0" fill="#202020" stroke="#202020" stroke-width="0.35" text-anchor="middle" dominant-baseline="central" transform="rotate(-45 756.10 403.27)">4000</text>
<line x1="794.25" y1="387.10" x2="794.25" y2="390.60" stroke="#444" stroke-width="1"/>
<text x="794.25" y="403.27" font-family='"Liberation Sans", "Noto Sans CJK SC", sans-serif' font-size="9.0" fill="#202020" stroke="#202020" stroke-width="0.35" text-anchor="middle" dominant-baseline="central" transform="rotate(-45 794.25 403.27)">5000</text>
<line x1="832.40" y1="387.10" x2="832.40" y2="390.60" stroke="#444" stroke-width="1"/>
<text x="832.40" y="403.27" font-family='"Liberation Sans", "Noto Sans CJK SC", sans-serif' font-size="9.0" fill="#202020" stroke="#202020" stroke-width="0.35" text-anchor="middle" dominant-baseline="central" transform="rotate(-45 832.40 403.27)">6000</text>
<line x1="870.56" y1="387.10" x2="870.56" y2="390.60" stroke="#444" stroke-width="1"/>
<text x="870.56" y="403.27" font-family='"Liberation Sans", "Noto Sans CJK SC", sans-serif' font-size="9.0" fill="#202020" stroke="#202020" stroke-width="0.35" text-anchor="middle" dominant-baseline="central" transform="rotate(-45 870.56 403.27)">7000</text>
<line x1="908.71" y1="387.10" x2="908.71" y2="390.60" stroke="#444" stroke-width="1"/>
<text x="908.71" y="403.27" font-family='"Liberation Sans", "Noto Sans CJK SC", sans-serif' font-size="9.0" fill="#202020" stroke="#202020" stroke-width="0.35" text-anchor="middle" dominant-baseline="central" transform="rotate(-45 908.71 403.27)">8000</text>
<line x1="946.87" y1="387.10" x2="946.87" y2="390.60" stroke="#444" stroke-width="1"/>
<text x="946.87" y="403.27" font-family='"Liberation Sans", "Noto Sans CJK SC", sans-serif' font-size="9.0" fill="#202020" stroke="#202020" stroke-width="0.35" text-anchor="middle" dominant-baseline="central" transform="rotate(-45 946.87 403.27)">9000</text>
<line x1="985.02" y1="387.10" x2="985.02" y2="390.60" stroke="#444" stroke-width="1"/>
<text x="985.02" y="405.04" font-family='"Liberation Sans", "Noto Sans CJK SC", sans-serif' font-size="9.0" fill="#202020" stroke="#202020" stroke-width="0.35" text-anchor="middle" dominant-baseline="central" transform="rotate(-45 985.02 405.04)">10000</text>
<text x="794.25" y="70.9" font-family='"Liberation Sans", "Noto Sans CJK SC", sans-serif' font-size="10.8" font-weight="700" fill="#1c1c1c" stroke="#1c1c1c" stroke-width="0.15" text-anchor="middle" transform="translate(0 70.9) scale(1 0.88) translate(0 -70.9)">完整生命周期延迟分位数</text>
<text x="755.08" y="430.20" font-family='"Liberation Sans", "Noto Sans CJK SC", sans-serif' font-size="10" font-weight="500" fill="#202020" stroke="#202020" stroke-width="0.35" transform="translate(0 430.20) scale(1 0.92) translate(0 -430.20)">虚拟用户数</text>
<text x="805.08" y="430.20" font-family='"Liberation Sans", "Noto Sans CJK SC", sans-serif' font-size="10" font-weight="500" fill="#202020" stroke="#202020" stroke-width="0.35" xml:space="preserve"> (VUs)</text>
<g transform="rotate(-90 551.40 231.75)"><text x="510.02" y="231.75" font-family='"Liberation Sans", "Noto Sans CJK SC", sans-serif' font-size="10" font-weight="500" fill="#202020" stroke="#202020" stroke-width="0.35" transform="translate(0 231.75) scale(1 0.92) translate(0 -231.75)">完整周期延迟</text>
<text x="570.02" y="231.75" font-family='"Liberation Sans", "Noto Sans CJK SC", sans-serif' font-size="10" font-weight="500" fill="#202020" stroke="#202020" stroke-width="0.35" xml:space="preserve"> (ms)</text></g>
<text x="1048.70" y="232.9" font-family='"Liberation Sans", "Noto Sans CJK SC", sans-serif' font-size="9.6" fill="#8a6cec" stroke="#8a6cec" stroke-width="0.35" text-anchor="middle" transform="rotate(-90 1048.70 232.9)">QPS</text>
<rect x="589.00" y="80.30" width="65.30" height="74.20" rx="2" fill="#fafbfc" fill-opacity="0.9" stroke="#cdcdcd" stroke-width="0.9"/>
<line x1="591.10" y1="87.30" x2="609.00" y2="87.30" stroke="#c0392b" stroke-width="2.6"/>
<circle cx="600.05" cy="87.30" r="3.15" fill="#c0392b"/>
<text x="614.60" y="90.30" font-family='"Liberation Sans", "Noto Sans CJK SC", sans-serif' font-size="8.2" font-weight="500" fill="#202020" stroke="#202020" stroke-width="0.35" xml:space="preserve">avg</text>
<line x1="591.10" y1="99.16" x2="609.00" y2="99.16" stroke="#74a0ec" stroke-width="1.6" stroke-dasharray="5.4 2.3"/>
<rect x="597.75" y="96.86" width="4.60" height="4.60" fill="#74a0ec"/>
<text x="614.60" y="102.16" font-family='"Liberation Sans", "Noto Sans CJK SC", sans-serif' font-size="8.2" font-weight="500" fill="#202020" stroke="#202020" stroke-width="0.35" xml:space="preserve">P50</text>
<line x1="591.10" y1="111.02" x2="609.00" y2="111.02" stroke="#f0c14b" stroke-width="1.6" stroke-dasharray="5.4 2.3"/>
<polygon points="600.05,107.82 603.25,111.02 600.05,114.22 596.85,111.02" fill="#f0c14b"/>
<text x="614.60" y="114.02" font-family='"Liberation Sans", "Noto Sans CJK SC", sans-serif' font-size="8.2" font-weight="500" fill="#202020" stroke="#202020" stroke-width="0.35" xml:space="preserve">P90</text>
<line x1="591.10" y1="122.88" x2="609.00" y2="122.88" stroke="#e07b39" stroke-width="1.6" stroke-dasharray="5.4 2.3"/>
<polygon points="600.05,120.08 602.85,124.98 597.25,124.98" fill="#e07b39"/>
<text x="614.60" y="125.88" font-family='"Liberation Sans", "Noto Sans CJK SC", sans-serif' font-size="8.2" font-weight="500" fill="#202020" stroke="#202020" stroke-width="0.35" xml:space="preserve">P95</text>
<line x1="591.10" y1="134.74" x2="609.00" y2="134.74" stroke="#b03b67" stroke-width="1.8" stroke-dasharray="5.4 2.3"/>
<polygon points="600.05,137.54 602.85,132.64 597.25,132.64" fill="#b03b67"/>
<text x="614.60" y="137.74" font-family='"Liberation Sans", "Noto Sans CJK SC", sans-serif' font-size="8.2" font-weight="500" fill="#202020" stroke="#202020" stroke-width="0.35" xml:space="preserve">P99</text>
<line x1="591.10" y1="146.60" x2="609.00" y2="146.60" stroke="#6c3ce0" stroke-width="2.0"/>
<polygon points="600.05,143.10 603.55,146.60 600.05,150.10 596.55,146.60" fill="#6c3ce0"/>
<text x="614.60" y="149.60" font-family='"Liberation Sans", "Noto Sans CJK SC", sans-serif' font-size="8.2" font-weight="500" fill="#202020" stroke="#202020" stroke-width="0.35" transform="translate(0 149.60) scale(1 0.92) translate(0 -149.60)">实际</text>
<text x="631.00" y="149.60" font-family='"Liberation Sans", "Noto Sans CJK SC", sans-serif' font-size="8.2" font-weight="500" fill="#202020" stroke="#202020" stroke-width="0.35" xml:space="preserve"> QPS</text>
<rect x="21.7" y="437.6" width="1031.7" height="2.3" fill="#666666"/>
</g>
</svg>
</body></html>
